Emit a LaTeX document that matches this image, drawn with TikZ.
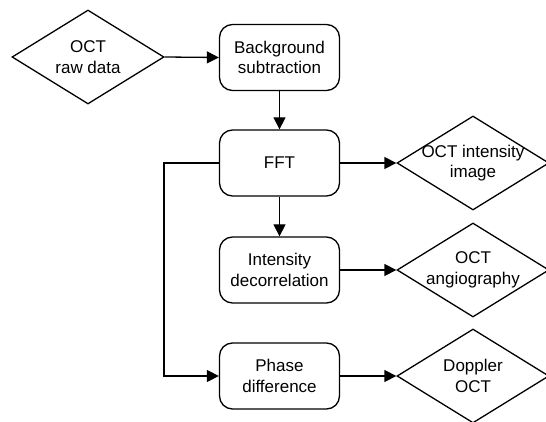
\documentclass[tikz,border=0pt]{standalone}
\usepackage{fontspec}
\setmainfont{Liberation Sans}
\usetikzlibrary{shapes.geometric,arrows.meta}
\begin{document}
\begin{tikzpicture}[x=1pt,y=-1pt,
  font=\fontsize{17}{20.5}\selectfont,
  line width=1.3pt,
  procbox/.style={draw, rectangle, rounded corners=13pt, minimum width=120pt, minimum height=66pt, align=center, inner sep=0pt},
  dia/.style={draw, diamond, aspect=1.617, minimum width=152pt, minimum height=94pt, inner sep=0pt},
  dtext/.style={align=center, inner sep=0pt},
  arr/.style={-{Triangle[length=12pt,width=12pt]}}]
\useasboundingbox (0,0) rectangle (546,422);
\clip (0,0) rectangle (546,422);
\node[dia] (d1) at (88,57) {};
\node[dtext] (t1) at (d1.center) {OCT\\raw data};
\node[procbox] (bg) at (279.5,57.5) {Background\\subtraction};
\node[procbox] (fft) at (279.5,163) {FFT};
\node[procbox] (int) at (279.5,270) {Intensity\\decorrelation};
\node[procbox] (ph) at (279.5,376) {Phase\\difference};
\node[dia] (d2) at (473,163) {};
\node[dtext] (t2) at (d2.center) {OCT intensity\\image};
\node[dia] (d3) at (473,270) {};
\node[dtext] (t3) at (d3.center) {OCT\\angiography};
\node[dia] (d4) at (473,376) {};
\node[dtext] (t4) at (d4.center) {Doppler\\OCT};
\coordinate (bend) at (164,163);
\draw[arr] (d1.east) -- (bg.west);
\draw[arr] (bg.south) -- (fft.north);
\draw[arr] (fft.east) -- (d2.west);
\draw[arr] (fft.south) -- (int.north);
\draw[arr] (int.east) -- (d3.west);
\draw[arr] (fft.west) -- (bend) |- (ph.west);
\draw[arr] (ph.east) -- (d4.west);
\end{tikzpicture}
\end{document}
